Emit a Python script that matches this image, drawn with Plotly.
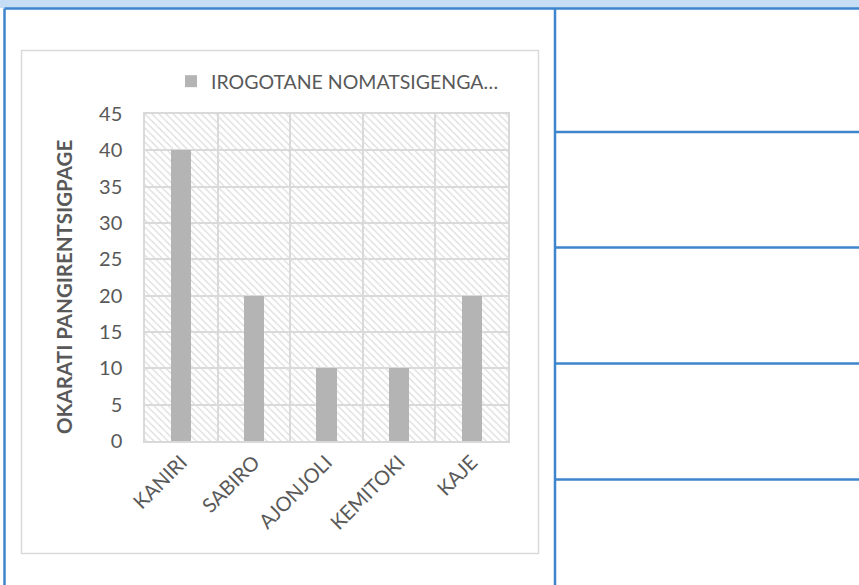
import plotly.graph_objects as go

categories = ["KANIRI", "SABIRO", "AJONJOLI", "KEMITOKI", "KAJE"]
values = [40, 20, 10, 10, 20]
series_name = "IROGOTANE NOMATSIGENGA…"
y_title = "OKARATI PANGIRENTSIGPAGE"
y_ticks = [0, 5, 10, 15, 20, 25, 30, 35, 40, 45]
y_max = 45

W, H = 859, 585
L, R, T, B = 145, 508, 114, 441  # plot area in pixels

def px(x):
    return (x - L) / (R - L)

def py(y):
    return (B - y) / (B - T)

FONT = "Lato"
TXT = "#595959"
BLUE = "#3d85cc"

fig = go.Figure()
# hatched plot-area background
fig.add_trace(go.Bar(
    x=categories, y=[y_max] * len(categories), width=1,
    marker=dict(color="rgba(0,0,0,0)", line=dict(width=0),
                pattern=dict(shape="\\", fgcolor="#dcdcdc", bgcolor="rgba(255,255,255,0)",
                             size=5, solidity=0.25, fillmode="replace")),
    showlegend=False, hoverinfo="skip",
))
fig.add_trace(go.Bar(
    x=categories, y=values, name=series_name, width=0.28,
    marker=dict(color="#b4b4b4", line=dict(width=0)),
))

shapes = []
# top light-blue band
shapes.append(dict(type="rect", xref="paper", yref="paper", x0=px(0), x1=px(W), y0=py(0), y1=py(8),
                   fillcolor="#c5ddf5", line=dict(width=0), layer="below"))
# chart frame
shapes.append(dict(type="rect", xref="paper", yref="paper", x0=px(21.5), x1=px(538.5), y0=py(553.5), y1=py(50.5),
                   line=dict(color="#d9d9d9", width=1.5), fillcolor="rgba(0,0,0,0)"))
# table borders
def line(x0, y0, x1, y1):
    shapes.append(dict(type="line", xref="paper", yref="paper", x0=px(x0), x1=px(x1), y0=py(y0), y1=py(y1),
                       line=dict(color=BLUE, width=2.5)))
line(4.5, 8.5, 4.5, 585)
line(4.5, 8.5, 859, 8.5)
line(555, 8.5, 555, 585)
for yy in [132, 247.5, 363.5, 479.5]:
    line(555, yy, 859, yy)

fig.update_layout(
    width=W, height=H,
    margin=dict(l=L, r=W - R, t=T, b=H - B, pad=0),
    paper_bgcolor="white", plot_bgcolor="white",
    barmode="overlay",
    bargap=0,
    font=dict(family=FONT, color=TXT, size=20),
    showlegend=True,
    legend=dict(orientation="h", x=px(171), y=py(62), xanchor="left", yanchor="top",
                font=dict(family=FONT, size=19.5, color=TXT), bgcolor="rgba(0,0,0,0)",
                itemclick=False),
    shapes=shapes,
    annotations=[dict(text="<b>" + y_title + "</b>", xref="paper", yref="paper",
                      x=px(63.5), y=py(287.5), xanchor="center", yanchor="middle",
                      textangle=-90, showarrow=False,
                      font=dict(family=FONT, size=20.5, color=TXT))],
    xaxis=dict(type="category", tickson="boundaries", showgrid=True, gridcolor="#d9d9d9", gridwidth=1.5,
               showline=True, mirror=True, linecolor="#d9d9d9", linewidth=1.5,
               ticks="outside", ticklen=14, tickcolor="rgba(0,0,0,0)",
               tickangle=-45, tickfont=dict(family=FONT, size=20, color=TXT),
               range=[-0.5, 4.5], fixedrange=True),
    yaxis=dict(range=[0, y_max], tickvals=y_ticks, showgrid=True, gridcolor="#d9d9d9", gridwidth=1.5,
               showline=True, mirror=True, linecolor="#d9d9d9", linewidth=1.5, zeroline=False,
               ticks="outside", ticklen=17, tickcolor="rgba(0,0,0,0)",
               tickfont=dict(family=FONT, size=20, color=TXT),
               fixedrange=True),
)

fig.write_html("out.html", config={"displayModeBar": False},
               post_script="document.body.style.margin='0';")
